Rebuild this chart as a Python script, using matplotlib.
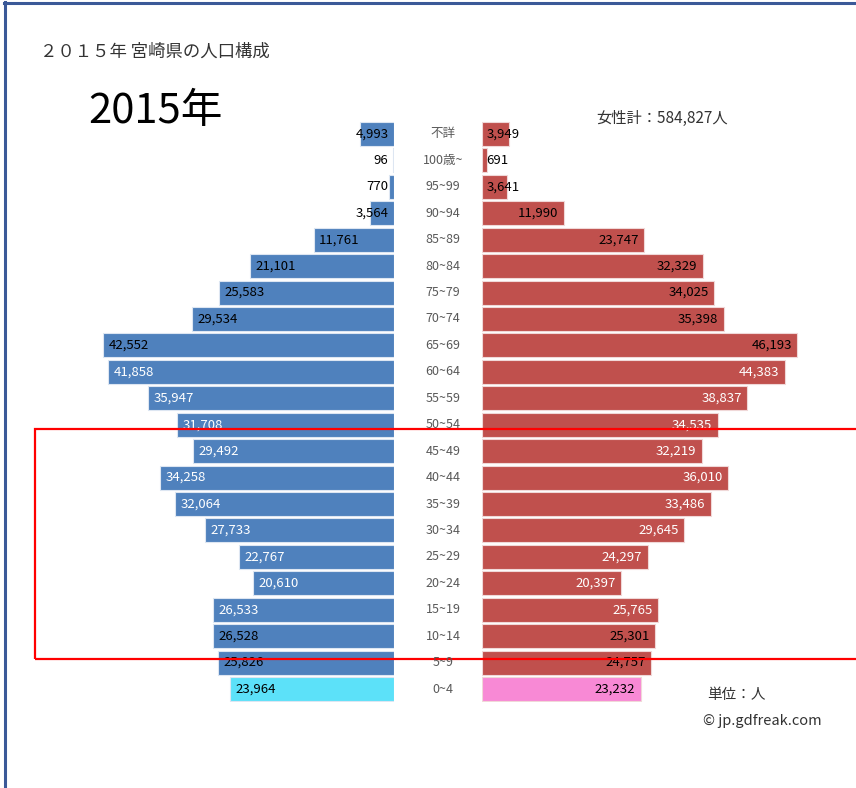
import matplotlib.pyplot as plt
from matplotlib.patches import Rectangle
from matplotlib.lines import Line2D
from matplotlib.transforms import blended_transform_factory

plt.rcParams['font.family'] = ['Noto Sans CJK JP', 'DejaVu Sans']

ages = ['不詳', '100歳~', '95~99', '90~94', '85~89', '80~84', '75~79', '70~74',
        '65~69', '60~64', '55~59', '50~54', '45~49', '40~44', '35~39', '30~34',
        '25~29', '20~24', '15~19', '10~14', '5~9', '0~4']
male = [4993, 96, 770, 3564, 11761, 21101, 25583, 29534, 42552, 41858, 35947,
        31708, 29492, 34258, 32064, 27733, 22767, 20610, 26533, 26528, 25826, 23964]
female = [3949, 691, 3641, 11990, 23747, 32329, 34025, 35398, 46193, 44383, 38837,
          34535, 32219, 36010, 33486, 29645, 24297, 20397, 25765, 25301, 24757, 23232]
female_total = '女性計：584,827人'

W, H = 856, 788
fig = plt.figure(figsize=(W / 100, H / 100), dpi=100)


def fx(px):
    return px / W


def fy(py):
    return 1 - py / H


px_per = 0.00683
top_px, bot_px = 120.75, 702.25
ax_l = fig.add_axes([fx(40), fy(bot_px), fx(394 - 40), (bot_px - top_px) / H])
ax_r = fig.add_axes([fx(482), fy(bot_px), fx(856 - 482), (bot_px - top_px) / H])

n = len(ages)
ys = list(range(n))
blue, red = '#4F81BD', '#C0504D'
mcol = [blue] * (n - 1) + ['#5CE1F9']
fcol = [red] * (n - 1) + ['#F889D5']

ax_l.barh(ys, male, height=0.91, color=mcol, edgecolor='#dde6f2', linewidth=0.8)
ax_r.barh(ys, female, height=0.91, color=fcol, edgecolor='#f0d8d8', linewidth=0.8)

ax_l.set_xlim((394 - 40) / px_per, 0)
ax_r.set_xlim(0, (856 - 482) / px_per)
for ax in (ax_l, ax_r):
    ax.set_ylim(n - 0.5, -0.5)
    ax.axis('off')

fs = 9.5
for i in ys:
    tc = 'white' if 9 <= i <= 18 else 'black'
    if male[i] > 5000:
        ax_l.annotate(f'{male[i]:,}', (male[i], i), xytext=(4, 0), textcoords='offset points',
                      ha='left', va='center', fontsize=fs, color=tc)
    else:
        ax_l.annotate(f'{male[i]:,}', (0, i), xytext=(-4, 0), textcoords='offset points',
                      ha='right', va='center', fontsize=fs, color='black')
    if female[i] > 5000:
        ax_r.annotate(f'{female[i]:,}', (female[i], i), xytext=(-4, 0), textcoords='offset points',
                      ha='right', va='center', fontsize=fs, color=tc)
    else:
        ax_r.annotate(f'{female[i]:,}', (0, i), xytext=(3, 0), textcoords='offset points',
                      ha='left', va='center', fontsize=fs, color='black')

tr = blended_transform_factory(fig.transFigure, ax_l.transData)
for i, a in enumerate(ages):
    fig.text(fx(443), i, a, transform=tr, ha='center', va='center', fontsize=9, color='#595959')

fig.text(fx(40), fy(52), '２０１５年 宮崎県の人口構成', ha='left', va='center', fontsize=12.5, color='#333333')
fig.text(fx(88), fy(111), '2015年', ha='left', va='center', fontsize=30, color='black')
fig.text(fx(596), fy(118), female_total, ha='left', va='center', fontsize=11, color='#333333')
fig.text(fx(707), fy(695), '単位：人', ha='left', va='center', fontsize=10.5, color='#333333')
fig.text(fx(703), fy(721), '© jp.gdfreak.com', ha='left', va='center', fontsize=10.5, color='#333333')

# frame lines and highlight box
fig.add_artist(Line2D([fx(5), fx(5)], [fy(2), fy(788)], transform=fig.transFigure,
                      color='#3B5998', linewidth=2.2))
fig.add_artist(Line2D([fx(4), fx(856)], [fy(3), fy(3)], transform=fig.transFigure,
                      color='#3B5998', linewidth=2.2))
fig.add_artist(Rectangle((fx(35), fy(659)), fx(900 - 35), (659 - 429) / H,
                         transform=fig.transFigure, fill=False, edgecolor='#FF0000',
                         linewidth=1.6))

fig.savefig('out.png', dpi=100)
